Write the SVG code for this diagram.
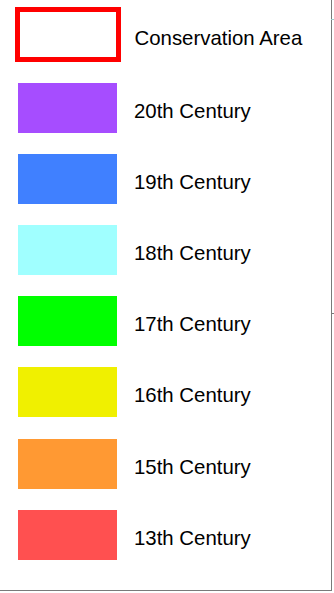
<svg xmlns="http://www.w3.org/2000/svg" width="334" height="593" viewBox="0 0 334 593">
<style>
text{font-family:"Liberation Sans",Arial,sans-serif;font-size:20.4px;fill:#000}
.sw{stroke:none}
</style>
<rect width="334" height="593" fill="#fff"/>
<g id="frame" stroke="#7a7a7a" stroke-width="1" fill="none">
<line x1="331.5" y1="0" x2="331.5" y2="590"/>
<line x1="0" y1="590.5" x2="332" y2="590.5"/>
<line x1="331" y1="19.5" x2="334" y2="19.5" stroke="#9cc"/>
<line x1="331" y1="313.5" x2="334" y2="313.5"/>
</g>
<g id="conservation"><rect x="17.5" y="9.5" width="101" height="50" fill="#fff" stroke="#ff0000" stroke-width="5"/><text x="134.5" y="44.5">Conservation Area</text></g>
<g id="c20"><rect class="sw" x="18" y="83" width="99" height="50" fill="#a64dff"/><text x="134" y="118">20th Century</text></g>
<g id="c19"><rect class="sw" x="18" y="154" width="99" height="50" fill="#4080ff"/><text x="134" y="189">19th Century</text></g>
<g id="c18"><rect class="sw" x="18" y="225" width="99" height="50" fill="#a0ffff"/><text x="134" y="260">18th Century</text></g>
<g id="c17"><rect class="sw" x="18" y="296" width="99" height="50" fill="#00ff00"/><text x="134" y="331">17th Century</text></g>
<g id="c16"><rect class="sw" x="18" y="367" width="99" height="50" fill="#f0f000"/><text x="134" y="402">16th Century</text></g>
<g id="c15"><rect class="sw" x="18" y="439" width="99" height="50" fill="#ff9933"/><text x="134" y="474">15th Century</text></g>
<g id="c13"><rect class="sw" x="18" y="510" width="99" height="50" fill="#ff5050"/><text x="134" y="545">13th Century</text></g>
</svg>
